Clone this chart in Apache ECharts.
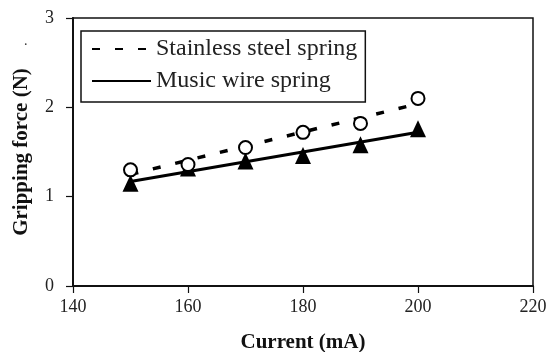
<!DOCTYPE html>
<html>
<head>
<meta charset="utf-8">
<script src="https://cdn.jsdelivr.net/npm/echarts@6/dist/echarts.min.js"></script>
<style>
html,body{margin:0;padding:0;background:#fff;}
#chart{width:547px;height:352px;}
</style>
</head>
<body>
<div id="chart"></div>
<script>
// 数据
var current = [150, 160, 170, 180, 190, 200];
var stainless = [1.30, 1.36, 1.55, 1.72, 1.82, 2.10];
var musicWire = [1.15, 1.32, 1.40, 1.46, 1.58, 1.76];
// 趋势线两端
var fitX = [150, 200];
var fitStainless = [1.25, 2.04];
var fitMusic = [1.17, 1.72];
var xTicks = [140, 160, 180, 200, 220];
var yTicks = [0, 1, 2, 3];

function pairs(xs, ys){
	var out = [];
	for(var i = 0; i < xs.length; i++){
		out.push([xs[i], ys[i]]);
	}
	return out;
}

var font = 'Liberation Serif';
var myChart = echarts.init(document.getElementById('chart'));
var option = {
	backgroundColor: '#fff',
	animation: false,
	color: ['#000', '#000'],
	grid: {   //图表边距
		left: 73, right: 14, top: 18, bottom: 66,
		outerBoundsMode: 'none',
		containLabel: false,
		show: true, borderColor: '#111', borderWidth: 1.5
	},
	legend: {
		data: [
			{name: 'Stainless steel spring', itemStyle: {opacity: 0}},
			{name: 'Music wire spring', itemStyle: {opacity: 0}}
		],
		orient: 'vertical',
		left: 81, top: 31,
		padding: [3, 8, 6, 10],
		itemGap: 2,
		itemWidth: 59,
		itemHeight: 14,
		borderColor: '#111',
		borderWidth: 1.5,
		textStyle: {fontFamily: font, fontSize: 24, color: '#222', lineHeight: 30}
	},
	graphic: [
		{type: 'text', left: 24, top: 34, style: {text: '.', font: '14px ' + font, fill: '#333'}}
	],
	xAxis: {
		type: 'value',
		min: xTicks[0], max: xTicks[xTicks.length - 1], interval: 20,
		name: 'Current (mA)',
		nameLocation: 'middle',
		nameGap: 46,
		nameTextStyle: {fontFamily: font, fontSize: 21, fontWeight: 'bold', color: '#111'},
		axisLine: {lineStyle: {color: '#111', width: 2}},
		axisTick: {inside: false, length: 7, lineStyle: {color: '#111', width: 1.2}},
		axisLabel: {fontFamily: font, fontSize: 18, color: '#222', margin: 12},
		splitLine: {show: false}
	},
	yAxis: {
		type: 'value',
		min: yTicks[0], max: yTicks[yTicks.length - 1], interval: 1,
		name: 'Gripping force (N)',
		nameLocation: 'middle',
		nameGap: 41,
		nameTextStyle: {fontFamily: font, fontSize: 21, fontWeight: 'bold', color: '#111'},
		axisLine: {lineStyle: {color: '#111', width: 2}},
		axisTick: {inside: false, length: 7, lineStyle: {color: '#111', width: 1.2}},
		axisLabel: {fontFamily: font, fontSize: 18, color: '#222', margin: 19},
		splitLine: {show: false}
	},
	series: [
		{
			name: 'Stainless steel spring',
			type: 'line',
			data: pairs(fitX, fitStainless),
			symbol: 'none',
			itemStyle: {color: '#000'},
			lineStyle: {color: '#000', width: 3.5, type: [8, 15]},
			z: 2
		},
		{
			name: 'Music wire spring',
			type: 'line',
			data: pairs(fitX, fitMusic),
			symbol: 'none',
			itemStyle: {color: '#000'},
			lineStyle: {color: '#000', width: 3},
			z: 2
		},
		{
			name: 'music points',
			type: 'scatter',
			data: pairs(current, musicWire),
			symbol: 'triangle',
			symbolSize: [16, 17],
			itemStyle: {color: '#000', opacity: 1},
			z: 3
		},
		{
			name: 'stainless points',
			type: 'scatter',
			data: pairs(current, stainless),
			symbol: 'circle',
			symbolSize: 13,
			itemStyle: {color: '#fff', borderColor: '#000', borderWidth: 2, opacity: 1},
			z: 4
		}
	]
};
myChart.setOption(option);
</script>
</body>
</html>
